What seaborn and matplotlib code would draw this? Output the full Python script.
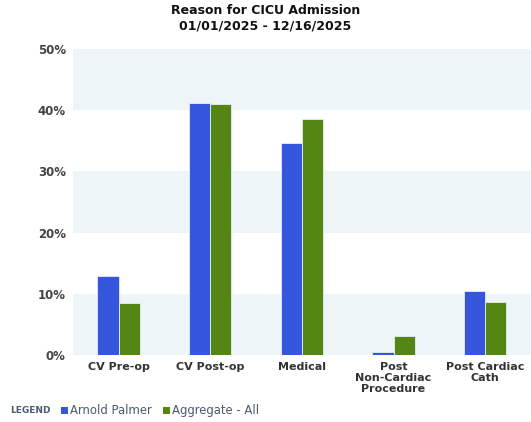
import matplotlib
matplotlib.use("Agg")
import matplotlib.pyplot as plt
import seaborn as sns
import pandas as pd
from matplotlib.patches import Rectangle

categories = ["CV Pre-op", "CV Post-op", "Medical", "Post\nNon-Cardiac\nProcedure", "Post Cardiac\nCath"]
arnold_palmer = [12.9, 41.2, 34.6, 0.5, 10.5]
aggregate_all = [8.5, 41.0, 38.6, 3.1, 8.7]
series_names = ["Arnold Palmer", "Aggregate - All"]
y_ticks = [0, 10, 20, 30, 40, 50]

colors = ["#3556dc", "#548613"]

df = pd.DataFrame({
    "category": categories * 2,
    "value": arnold_palmer + aggregate_all,
    "series": [series_names[0]] * len(categories) + [series_names[1]] * len(categories),
})

sns.set_style("white")
plt.rcParams["font.family"] = ["DejaVu Sans"]

fig = plt.figure(figsize=(5.31, 4.22), dpi=100)
ax = fig.add_axes([0.137, 0.159, 0.863, 0.725])

# alternating horizontal bands
for i, lo in enumerate(y_ticks[:-1]):
    if i % 2 == 0:
        ax.axhspan(lo, lo + 10, color="#eef5f8", zorder=0, lw=0)

sns.barplot(data=df, x="category", y="value", hue="series", palette=colors,
            width=0.46, ax=ax, edgecolor="#e8eef8", linewidth=0.6,
            saturation=1, legend=False, zorder=2)

ax.set_xlim(-0.5, 4.5)
ax.set_ylim(0, 50)
ax.set_yticks(y_ticks)
ax.set_yticklabels([f"{t}%" for t in y_ticks], fontsize=8.5, fontweight="bold", color="#444444")
ax.set_xticks(range(len(categories)))
ax.set_xticklabels(categories, fontsize=8, fontweight="bold", color="#333333", linespacing=1.15)
ax.tick_params(axis="y", length=0, pad=5)
ax.tick_params(axis="x", length=0, pad=5)
ax.set_xlabel("")
ax.set_ylabel("")
for s in ax.spines.values():
    s.set_visible(False)

fig.suptitle("Reason for CICU Admission\n01/01/2025 - 12/16/2025", y=0.99,
             fontsize=9, fontweight="bold", color="#111111", linespacing=1.2)

# legend row along the bottom
fig.text(0.019, 0.027, "LEGEND", fontsize=6.5, fontweight="bold", color="#4a5a70", va="center")
x = 0.115
for name, c in zip(series_names, colors):
    fig.patches.append(Rectangle((x, 0.018), 0.013, 0.017, transform=fig.transFigure,
                                 facecolor=c, edgecolor="none"))
    fig.text(x + 0.017, 0.027, name, fontsize=8.4, color="#4a5a70", va="center")
    x += 0.192

fig.savefig("out.png", dpi=100)
